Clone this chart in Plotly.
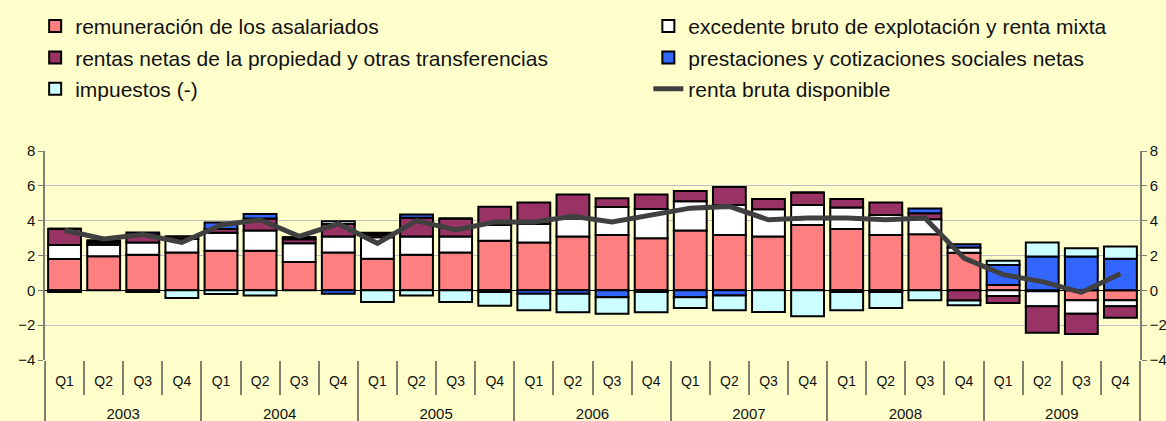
import plotly.graph_objects as go

years = ["2003"] * 4 + ["2004"] * 4 + ["2005"] * 4 + ["2006"] * 4 + ["2007"] * 4 + ["2008"] * 4 + ["2009"] * 4
quarters = ["Q1", "Q2", "Q3", "Q4"] * 7

remuneracion = [1.80, 1.95, 2.05, 2.17, 2.27, 2.27, 1.62, 2.17, 1.81, 2.04, 2.17, 2.84,
                2.74, 3.09, 3.18, 2.99, 3.43, 3.18, 3.09, 3.75, 3.52, 3.18, 3.22, 2.16,
                0.30, -0.05, -0.57, -0.57]
excedente = [0.80, 0.67, 0.70, 0.78, 1.04, 1.16, 1.08, 0.92, 1.24, 1.05, 0.92, 0.91,
             1.07, 1.04, 1.60, 1.68, 1.69, 1.72, 1.56, 1.15, 1.24, 1.14, 0.86, 0.30,
             -0.33, -0.86, -0.78, -0.34]
rentas = [0.93, 0.12, 0.44, 0.14, 0.21, 0.70, 0.23, 0.72, 0.14, 1.08, 1.04, 1.05,
          1.24, 1.37, 0.50, 0.83, 0.59, 1.04, 0.59, 0.72, 0.48, 0.73, 0.34, -0.59,
          -0.40, -1.52, -1.15, -0.67]
prestaciones = [-0.10, 0.12, 0.13, 0.00, 0.37, 0.25, 0.12, -0.19, 0.12, 0.19, 0.00, -0.10,
                -0.19, -0.19, -0.40, -0.10, -0.40, -0.30, 0.00, 0.00, -0.10, -0.10, 0.28, 0.19,
                1.15, 1.94, 1.94, 1.81]
impuestos = [0.00, 0.00, -0.10, -0.44, -0.21, -0.30, 0.00, 0.15, -0.67, -0.30, -0.67, -0.78,
             -0.95, -1.07, -0.95, -1.16, -0.61, -0.84, -1.24, -1.49, -1.04, -0.91, -0.57, -0.27,
             0.25, 0.80, 0.48, 0.70]
renta_bruta = [3.45, 2.95, 3.20, 2.75, 3.75, 4.05, 3.10, 3.82, 2.70, 4.00, 3.47, 3.92,
               3.92, 4.25, 3.93, 4.30, 4.72, 4.82, 4.05, 4.15, 4.15, 4.05, 4.15, 1.85,
               0.90, 0.50, -0.12, 0.95]

bar_series = [
    ("remuneración de los asalariados", remuneracion, "#FF8080", "legend"),
    ("excedente bruto de explotación y renta mixta", excedente, "#FFFFFF", "legend2"),
    ("rentas netas de la propiedad y otras transferencias", rentas, "#993366", "legend"),
    ("prestaciones y cotizaciones sociales netas", prestaciones, "#3366FF", "legend2"),
    ("impuestos (-)", impuestos, "#CCFFFF", "legend"),
]

# category positions derived from the quarter list
pos = list(range(len(quarters)))
year_names = list(dict.fromkeys(years))
year_centers = [sum(p for p, y in zip(pos, years) if y == yr) / years.count(yr) for yr in year_names]
year_bounds = [min(p for p, y in zip(pos, years) if y == yr) - 0.5 for yr in year_names] + [pos[-1] + 0.5]
xrange = [pos[0] - 0.5, pos[-1] + 0.5]

FONT = "Liberation Sans, Arial, sans-serif"
AXIS_COL = "#808070"

fig = go.Figure()
for name, vals, col, lg in bar_series:
    fig.add_trace(go.Bar(
        x=pos, y=vals, name=name,
        marker=dict(color=col, line=dict(color="black", width=2)),
        legend=lg, legendgroup=name,
        hovertext=[f"{y} {q}" for y, q in zip(years, quarters)],
    ))

fig.add_trace(go.Scatter(
    x=pos, y=renta_bruta, name="renta bruta disponible",
    mode="lines", line=dict(color="#404040", width=5),
    xaxis="x2", yaxis="y2", legend="legend2", legendgroup="renta",
))

legend_common = dict(
    yanchor="top", xanchor="left", y=1.694,
    bgcolor="rgba(0,0,0,0)", font=dict(family=FONT, size=21, color="#111111"),
    tracegroupgap=1, traceorder="grouped",
)

fig.update_layout(
    width=1166, height=421,
    margin=dict(l=45, r=26, t=151, b=61, autoexpand=False),
    paper_bgcolor="#FFFFCC", plot_bgcolor="#FFFFCC",
    barmode="relative", bargap=0.16,
    font=dict(family=FONT, size=15, color="#111111"),
    showlegend=True,
    legend=dict(x=-0.009, **legend_common),
    legend2=dict(x=0.551, **legend_common),
    xaxis=dict(
        range=xrange, showgrid=False, zeroline=False, showline=False,
        tickmode="array", tickvals=pos, ticktext=quarters, ticks="",
        ticklabelstandoff=11, tickfont=dict(size=14),
        minor=dict(tickmode="linear", tick0=xrange[0], dtick=1, ticks="outside",
                   ticklen=34, tickwidth=1.5, tickcolor=AXIS_COL, showgrid=False),
        automargin=False,
    ),
    xaxis2=dict(
        range=xrange, overlaying="x", anchor="y2", side="bottom",
        showgrid=False, zeroline=False, showline=False,
        tickmode="array", tickvals=year_centers, ticktext=year_names, ticks="",
        ticklabelstandoff=43, tickfont=dict(size=15),
        minor=dict(tickmode="array", tickvals=year_bounds, ticks="outside",
                   ticklen=61, tickwidth=1.5, tickcolor=AXIS_COL, showgrid=False),
        automargin=False,
    ),
    yaxis=dict(
        range=[-4, 8], dtick=2, tick0=0, showgrid=True, gridcolor="#C0C0C8", gridwidth=1,
        showline=True, linecolor=AXIS_COL, linewidth=1.5,
        ticks="outside", ticklen=5, tickcolor=AXIS_COL,
        zeroline=True, zerolinecolor="black", zerolinewidth=1,
        tickfont=dict(size=15), automargin=False,
    ),
    yaxis2=dict(
        range=[-4, 8], dtick=2, tick0=0, overlaying="y", side="right",
        showgrid=False, zeroline=False, showline=True, linecolor=AXIS_COL, linewidth=1.5,
        ticks="outside", ticklen=5, tickcolor=AXIS_COL,
        tickfont=dict(size=15), automargin=False,
    ),
)

fig.write_html("out.html", config={"displayModeBar": False},
               post_script="document.body.style.margin='0';")
